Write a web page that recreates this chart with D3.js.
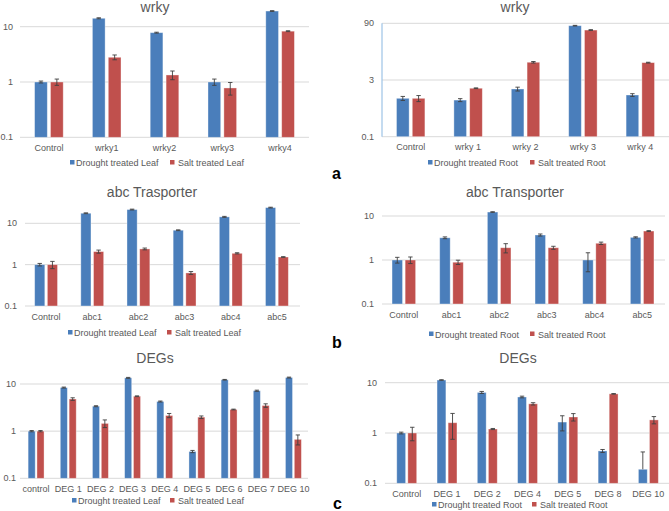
<!DOCTYPE html>
<html><head><meta charset="utf-8">
<script src="https://cdn.jsdelivr.net/npm/d3@7"></script>
<style>
html,body{margin:0;padding:0;background:#fff;}
text{font-family:"Liberation Sans",Arial,sans-serif;}
</style></head>
<body>
<svg id="c" width="669" height="511"></svg>
<script>
// ---------- DATA ----------
const wrkyLeafCats = ["Control","wrky1","wrky2","wrky3","wrky4"];
const wrkyLeafDrought = [1.0, 14.2, 7.8, 1.0, 19.2];
const wrkyLeafDroughtErr = [0.04, 0.3, 0.15, 0.13, 0.3];
const wrkyLeafSalt = [1.0, 2.8, 1.34, 0.78, 8.3];
const wrkyLeafSaltErr = [0.13, 0.28, 0.24, 0.2, 0.15];

const wrkyRootCats = ["Control","wrky 1","wrky 2","wrky 3","wrky 4"];
const wrkyRootDrought = [1.0, 0.9, 1.75, 78, 1.22];
const wrkyRootDroughtErr = [0.12, 0.08, 0.2, 1.5, 0.1];
const wrkyRootSalt = [1.0, 1.83, 8.7, 60, 8.5];
const wrkyRootSaltErr = [0.18, 0.04, 0.4, 1.5, 0.2];

const abcLeafCats = ["Control","abc1","abc2","abc3","abc4","abc5"];
const abcLeafDrought = [1.0, 17.5, 21.5, 6.8, 14.3, 24];
const abcLeafDroughtErr = [0.07, 0.4, 0.5, 0.15, 0.4, 0.5];
const abcLeafSalt = [1.0, 2.07, 2.4, 0.63, 1.88, 1.53];
const abcLeafSaltErr = [0.2, 0.18, 0.12, 0.05, 0.06, 0.03];

const abcRootCats = ["Control","abc1","abc2","abc3","abc4","abc5"];
const abcRootDrought = [1.0, 3.2, 12.3, 3.7, 1.0, 3.27];
const abcRootDroughtErr = [0.15, 0.15, 0.2, 0.2, 0.46, 0.1];
const abcRootSalt = [1.0, 0.89, 1.9, 1.9, 2.4, 4.55];
const abcRootSaltErr = [0.17, 0.1, 0.45, 0.15, 0.15, 0.1];

const degLeafCats = ["control","DEG 1","DEG 2","DEG 3","DEG 4","DEG 5","DEG 6","DEG 7","DEG 10"];
const degLeafDrought = [1.0, 8.4, 3.38, 13.5, 4.25, 0.37, 12.3, 7.2, 13.7];
const degLeafDroughtErr = [0.03, 0.2, 0.08, 0.3, 0.1, 0.02, 0.2, 0.2, 0.3];
const degLeafSalt = [1.0, 4.8, 1.46, 5.5, 2.15, 1.98, 2.88, 3.5, 0.67];
const degLeafSaltErr = [0.03, 0.3, 0.27, 0.1, 0.22, 0.12, 0.05, 0.3, 0.16];

const degRootCats = ["Control","DEG 1","DEG 2","DEG 4","DEG 5","DEG 8","DEG 10"];
const degRootDrought = [1.0, 11.3, 6.4, 5.2, 1.65, 0.44, 0.19];
const degRootDroughtErr = [0.04, 0.15, 0.3, 0.2, 0.55, 0.03, 0.23];
const degRootSalt = [1.0, 1.6, 1.2, 3.8, 2.08, 6.0, 1.82];
const degRootSaltErr = [0.3, 0.85, 0.03, 0.2, 0.35, 0.08, 0.3];

const leafTicks = [0.1, 1, 10];
const rootWrkyTicks = [0.1, 3, 90];
const leafSeriesNames = ["Drought treated Leaf","Salt treated Leaf"];
const rootSeriesNames = ["Drought treated Root","Salt treated Root"];
const panelTitles = ["wrky","wrky","abc Trasporter","abc Transporter","DEGs","DEGs"];
const panelLetters = ["a","b","c"];

// ---------- LAYOUT ----------
const BLUE = "#4a7ebb", RED = "#c0504d", TXT = "#595959", GRID = "#d9d9d9";
const panels = [
  {cats:wrkyLeafCats, d:wrkyLeafDrought, de:wrkyLeafDroughtErr, s:wrkyLeafSalt, se:wrkyLeafSaltErr,
   names:leafSeriesNames, title:panelTitles[0], ticks:leafTicks,
   x0:20, x1:309, gx0:20, gx1:309, dom:[0.1,10], rng:[137.3,26.7], tickX:13,
   titleX:155, titleY:12, catY:151, legY:166, leg:[70,170], legOff:[6,8]},
  {cats:wrkyRootCats, d:wrkyRootDrought, de:wrkyRootDroughtErr, s:wrkyRootSalt, se:wrkyRootSaltErr,
   names:rootSeriesNames, title:panelTitles[1], ticks:rootWrkyTicks,
   x0:382, x1:669, gx0:382, gx1:669, dom:[0.1,90], rng:[136.7,23.3], tickX:374, axisLine:true,
   titleX:515, titleY:12, catY:150, legY:166, leg:[428,530], legOff:[6,8]},
  {cats:abcLeafCats, d:abcLeafDrought, de:abcLeafDroughtErr, s:abcLeafSalt, se:abcLeafSaltErr,
   names:leafSeriesNames, title:panelTitles[2], ticks:leafTicks,
   x0:23, x1:300, gx0:25, gx1:300, dom:[0.1,10], rng:[306,223.3], tickX:17,
   titleX:152, titleY:197, catY:320, legY:336, leg:[68,167], legOff:[6,8]},
  {cats:abcRootCats, d:abcRootDrought, de:abcRootDroughtErr, s:abcRootSalt, se:abcRootSaltErr,
   names:rootSeriesNames, title:panelTitles[3], ticks:leafTicks,
   x0:380, x1:666, gx0:382, gx1:665, dom:[0.1,10], rng:[304,216], tickX:374,
   titleX:515, titleY:197, catY:317.5, legY:337.5, leg:[429,530], legOff:[6,8]},
  {cats:degLeafCats, d:degLeafDrought, de:degLeafDroughtErr, s:degLeafSalt, se:degLeafSaltErr,
   names:leafSeriesNames, title:panelTitles[4], ticks:leafTicks,
   x0:20, x1:309.5, gx0:20, gx1:308, dom:[0.1,10], rng:[478.3,384], tickX:16,
   titleX:155, titleY:363, catY:492, legY:504, leg:[72,170], legOff:[6,8]},
  {cats:degRootCats, d:degRootDrought, de:degRootDroughtErr, s:degRootSalt, se:degRootSaltErr,
   names:rootSeriesNames, title:panelTitles[5], ticks:leafTicks,
   x0:386.6, x1:668.5, gx0:385, gx1:669, dom:[0.1,10], rng:[483.3,382.7], tickX:377,
   titleX:518, titleY:363, catY:497, legY:508, leg:[432,532], legOff:[6,8]}
];
const letterPos = [[332,179],[332,348],[333,509]];

const svg = d3.select("#c");

panels.forEach(p => {
  const g = svg.append("g");
  const x = d3.scaleBand().domain(p.cats).range([p.x0, p.x1]);
  const y = d3.scaleLog().domain(p.dom).range(p.rng);
  const bw = x.bandwidth()*0.22, gap = x.bandwidth()*0.055;
  const base = y(p.ticks[0]);

  // gridlines
  g.selectAll(".grid").data(p.ticks).join("line")
    .attr("x1", p.gx0).attr("x2", p.gx1)
    .attr("y1", d => y(d)).attr("y2", d => y(d))
    .attr("stroke", GRID).attr("stroke-width", 1);
  // tick labels
  g.selectAll(".tl").data(p.ticks).join("text")
    .attr("x", p.tickX).attr("y", d => y(d) + 3)
    .attr("text-anchor","end").attr("font-size", 9).attr("fill", TXT)
    .text(d => String(d));
  if (p.axisLine) {
    g.append("line").attr("x1", p.gx0).attr("x2", p.gx0)
      .attr("y1", y(p.dom[1])).attr("y2", base)
      .attr("stroke", "#9dc3e6").attr("stroke-width", 1.2);
  }
  // title
  g.append("text").attr("x", p.titleX).attr("y", p.titleY)
    .attr("text-anchor","middle").attr("font-size", 14).attr("fill", TXT).text(p.title);

  const series = [
    {vals:p.d, err:p.de, color:BLUE, off:-gap/2 - bw},
    {vals:p.s, err:p.se, color:RED, off:gap/2}
  ];
  series.forEach(sr => {
    const cx = (i) => x(p.cats[i]) + x.bandwidth()/2 + sr.off;
    g.selectAll(null).data(sr.vals).join("rect")
      .attr("x", (d,i) => cx(i)).attr("width", bw)
      .attr("y", d => y(d)).attr("height", d => base - y(d))
      .attr("fill", sr.color).attr("stroke", "rgba(255,255,255,0.45)").attr("stroke-width", 0.8);
    // error bars
    sr.vals.forEach((v,i) => {
      const e = sr.err[i];
      const mx = cx(i) + bw/2;
      const hi = y(v + e);
      const lo = (v - e) > 0 ? y(v - e) : y(v);
      const cap = Math.min(2.2, bw*0.3);
      g.append("line").attr("x1", mx).attr("x2", mx).attr("y1", hi).attr("y2", lo)
        .attr("stroke", "#404040").attr("stroke-width", 0.9);
      g.append("line").attr("x1", mx-cap).attr("x2", mx+cap).attr("y1", hi).attr("y2", hi)
        .attr("stroke", "#404040").attr("stroke-width", 0.9);
      if (v - e > 0) {
        g.append("line").attr("x1", mx-cap).attr("x2", mx+cap).attr("y1", lo).attr("y2", lo)
          .attr("stroke", "#404040").attr("stroke-width", 0.9);
      }
    });
  });

  // category labels
  g.selectAll(null).data(p.cats).join("text")
    .attr("x", d => x(d) + x.bandwidth()/2).attr("y", p.catY)
    .attr("text-anchor","middle").attr("font-size", 9).attr("fill", TXT).text(d => d);

  // legend
  [BLUE, RED].forEach((c, k) => {
    g.append("rect").attr("x", p.leg[k]).attr("y", p.legY - 6).attr("width", 4.5).attr("height", 4.5).attr("fill", c);
    g.append("text").attr("x", p.leg[k] + p.legOff[k]).attr("y", p.legY)
      .attr("font-size", 9).attr("fill", TXT).text(p.names[k]);
  });
});

svg.selectAll(".letter").data(panelLetters).join("text")
  .attr("x", (d,i) => letterPos[i][0]).attr("y", (d,i) => letterPos[i][1])
  .attr("font-size", 16).attr("font-weight", "bold").attr("fill", "#000").text(d => d);
</script>
</body></html>
